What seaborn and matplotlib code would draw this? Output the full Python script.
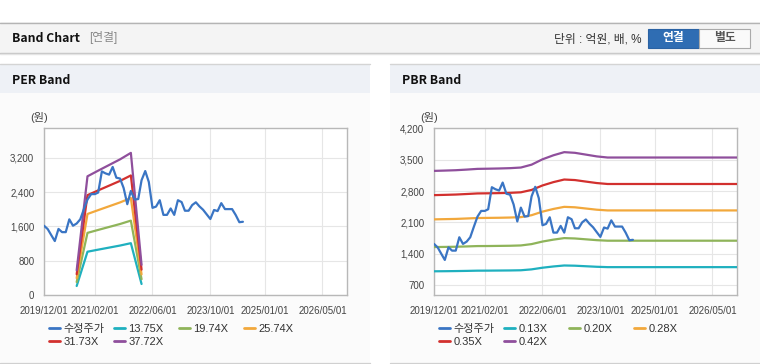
import numpy as np
import pandas as pd
import seaborn as sns
import matplotlib.pyplot as plt
import matplotlib.dates as mdates
from matplotlib.patches import Rectangle
from matplotlib.lines import Line2D
from matplotlib.ticker import FuncFormatter

sns.set_style("white")
plt.rcParams['font.family'] = ['Liberation Sans', 'Noto Sans CJK KR', 'DejaVu Sans']

# ---- data ----
price_dates = pd.date_range('2019-12-01', periods=56, freq='MS')
price = [1618, 1540, 1394, 1260, 1543, 1468, 1468, 1767, 1618, 1670, 1767, 2006,
         2229, 2356, 2356, 2393, 2886, 2841, 2811, 2990, 2740, 2720, 2500, 2120,
         2430, 2230, 2240, 2680, 2895, 2640, 2035, 2065, 2214, 1871, 1871, 2021,
         1871, 2214, 2170, 1968, 1968, 2100, 2165, 2070, 1990, 1880, 1775, 1985,
         1960, 2145, 2006, 2006, 2006, 1870, 1700, 1710]

per_dates = pd.to_datetime(['2020-09-01', '2020-12-01', '2021-03-01', '2021-06-01',
                            '2021-09-01', '2021-12-01', '2022-03-01'])
per_labels = ['13.75X', '19.74X', '25.74X', '31.73X', '37.72X']
per_1375 = [210, 1011, 1059, 1107, 1155, 1210, 257]
per_1974 = [302, 1451, 1520, 1589, 1658, 1737, 369]
per_2574 = [394, 1892, 1982, 2072, 2162, 2265, 481]
per_3173 = [485, 2332, 2443, 2554, 2665, 2792, 593]
per_3772 = [577, 2772, 2904, 3036, 3168, 3319, 705]

pbr_dates = pd.to_datetime(['2019-12-01', '2020-03-01', '2020-06-01', '2020-09-01',
                            '2020-12-01', '2021-03-01', '2021-06-01', '2021-09-01',
                            '2021-12-01', '2022-03-01', '2022-06-01', '2022-09-01',
                            '2022-12-01', '2023-03-01', '2023-06-01', '2023-09-01',
                            '2023-12-01', '2026-11-24'])
pbr_labels = ['0.13X', '0.20X', '0.28X', '0.35X', '0.42X']
pbr_013 = [1006, 1008, 1011, 1015, 1020, 1021, 1023, 1025, 1029, 1049, 1086, 1114,
           1136, 1131, 1119, 1107, 1099, 1099]
pbr_020 = [1548, 1551, 1555, 1562, 1570, 1571, 1574, 1577, 1584, 1614, 1671, 1714,
           1748, 1740, 1721, 1702, 1690, 1690]
pbr_028 = [2167, 2172, 2177, 2187, 2197, 2200, 2203, 2208, 2217, 2260, 2340, 2400,
           2447, 2437, 2410, 2383, 2367, 2367]
pbr_035 = [2709, 2715, 2722, 2734, 2747, 2750, 2754, 2760, 2772, 2825, 2925, 3000,
           3058, 3046, 3012, 2979, 2958, 2958]
pbr_042 = [3251, 3258, 3266, 3280, 3296, 3300, 3305, 3312, 3326, 3390, 3510, 3600,
           3670, 3655, 3615, 3575, 3550, 3550]

price_label = '수정주가'
colors = ['#3a75c4', '#1fb0bf', '#8fb45a', '#f2a83c', '#d2302e', '#8f4f9c']
xticks = pd.to_datetime(['2019-12-01', '2021-02-01', '2022-06-01',
                         '2023-10-01', '2025-01-01', '2026-05-01'])

W, H = 760, 364
fig = plt.figure(figsize=(W / 100, H / 100), dpi=100)
fig.patch.set_facecolor('white')


def box(x, y, w, h, fc, ec='none', lw=0, z=0):
    fig.add_artist(Rectangle((x / W, 1 - (y + h) / H), w / W, h / H, transform=fig.transFigure,
                             facecolor=fc, edgecolor=ec, linewidth=lw, zorder=z))


def hline(x0, x1, y, c, lw=1):
    fig.add_artist(Line2D([x0 / W, x1 / W], [1 - y / H, 1 - y / H], transform=fig.transFigure,
                          color=c, linewidth=lw))


# top header bar
box(0, 22, W, 31, '#f4f4f4')
hline(0, W, 22.5, '#b4b4b4')
hline(0, W, 53, '#c4c4c4')
hline(0, W, 54, '#e4e4e4')
fig.text(12 / W, 1 - 38 / H, 'Band Chart', fontsize=8.8, fontweight='bold', color='#111',
         va='center', family=['Noto Sans CJK KR'])
fig.text(89 / W, 1 - 38 / H, '[연결]', fontsize=8.5, color='#888', va='center')
fig.text(642 / W, 1 - 39 / H, '단위 : 억원, 배, %', fontsize=8.5, color='#333', va='center', ha='right')
box(648, 29, 51, 18.5, '#2f6db3', '#2a62a3', 0.8)
box(699, 29, 51, 18.5, '#fafafa', '#aaaaaa', 0.8)
fig.text(673.5 / W, 1 - 38.5 / H, '연결', fontsize=8.5, color='white', fontweight='bold',
         ha='center', va='center')
fig.text(724.5 / W, 1 - 38.5 / H, '별도', fontsize=8.5, color='#555', fontweight='bold',
         ha='center', va='center')

# panels
for px0, title in [(0, 'PER Band'), (390, 'PBR Band')]:
    box(px0, 64, 370, 29, '#eef1f6')
    box(px0, 93, 370, 269, '#fbfbfb')
    hline(px0, px0 + 370, 63.5, '#d4d4d4')
    hline(px0, px0 + 370, 362.5, '#d0d0d0')
    fig.text((px0 + 12) / W, 1 - 80 / H, title, fontsize=8.8, fontweight='bold', color='#111',
             va='center', family=['Noto Sans CJK KR'])


def make_axes(left, ylim, yticks, band_dates, bands, band_labels, legend_x):
    ax = fig.add_axes([left / W, 1 - 295 / H, 303 / W, 167 / H])
    ax.set_facecolor('white')
    sns.lineplot(x=price_dates, y=price, ax=ax, color=colors[0], linewidth=1.6,
                 errorbar=None, legend=False, zorder=4)
    for vals, c in zip(bands, colors[1:]):
        sns.lineplot(x=band_dates, y=vals, ax=ax, color=c, linewidth=1.6,
                     errorbar=None, legend=False, zorder=3)
    ax.set_xlim(pd.Timestamp('2019-12-01'), pd.Timestamp('2026-11-24'))
    ax.set_ylim(*ylim)
    ax.set_xticks(xticks)
    ax.xaxis.set_major_formatter(mdates.DateFormatter('%Y/%m/%d'))
    ax.set_yticks(yticks)
    ax.yaxis.set_major_formatter(FuncFormatter(lambda v, p: f'{v:,.0f}'))
    ax.grid(True, color='#e6e6e6', linewidth=0.8)
    ax.set_axisbelow(True)
    for s in ax.spines.values():
        s.set_color('#b8b8b8')
        s.set_linewidth(1)
    ax.tick_params(axis='both', length=5, width=0.8, color='#b8b8b8', labelcolor='#444',
                   labelsize=7, pad=2)
    ax.tick_params(axis='x', pad=3)
    ax.set_xlabel('')
    ax.set_ylabel('')
    ax.text(-0.015, 1.06, '(원)', transform=ax.transAxes, fontsize=8, color='#444',
            ha='center', va='center')

    handles = [Line2D([], [], color=c, linewidth=2) for c in colors]
    labels = [price_label] + band_labels
    cols = [[0, 4], [1, 5], [2], [3]]
    for i, idx in enumerate(cols):
        leg = ax.legend([handles[j] for j in idx], [labels[j] for j in idx],
                        loc='upper left', frameon=False, fontsize=8,
                        bbox_to_anchor=((legend_x + 65 * i - 4) / W, 1 - 324 / H),
                        bbox_transform=fig.transFigure, handlelength=1.0,
                        handletextpad=0.3, labelspacing=0.3, borderaxespad=0,
                        borderpad=0)
        for t in leg.get_texts():
            t.set_color('#333')
        ax.add_artist(leg)
        ax.legend_ = None
    return ax


make_axes(44, (0, 3900), [0, 800, 1600, 2400, 3200], per_dates,
          [per_1375, per_1974, per_2574, per_3173, per_3772], per_labels, 53)
make_axes(434, (476, 4210), [700, 1400, 2100, 2800, 3500, 4200], pbr_dates,
          [pbr_013, pbr_020, pbr_028, pbr_035, pbr_042], pbr_labels, 443)

fig.savefig('out.png', dpi=100, facecolor='white')
